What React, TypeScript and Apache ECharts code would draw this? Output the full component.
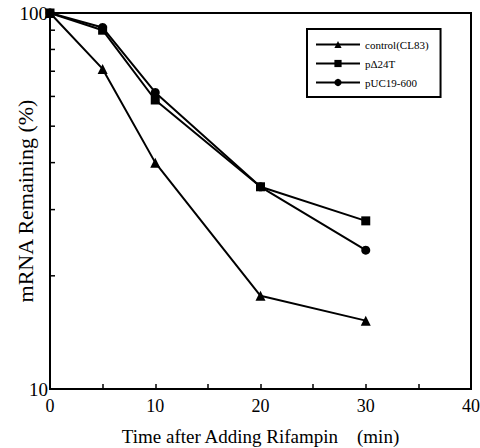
import React, { useEffect, useRef } from "react";
import * as echarts from "echarts";

const times = [0, 5, 10, 20, 30];
const controlCL83 = [100, 71, 40, 17.7, 15.2];
const pD24T = [100, 90, 58.7, 34.5, 28];
const pUC19600 = [100, 91.5, 61.5, 34.5, 23.4];
const seriesNames = ["control(CL83)", "pΔ24T", "pUC19-600"];
const yMinorTicks = [20, 30, 40, 50, 60, 70, 80, 90];

const FONT = '"Liberation Serif", "Times New Roman", serif';

export default function App() {
  const ref = useRef<HTMLDivElement>(null);
  useEffect(() => {
    if (!ref.current) return;
    const chart = echarts.init(ref.current, undefined, { renderer: "svg" });
    const mk = (arr: number[]) => times.map((t, i) => [t, arr[i]]);
    const lineBase = {
      type: "line",
      lineStyle: { color: "#000", width: 2 },
      itemStyle: { color: "#000" },
      z: 3,
    };
    chart.setOption({
      animation: false,
      backgroundColor: "#fff",
      textStyle: { fontFamily: FONT },
      grid: {
        left: 50,
        right: 9,
        top: 13,
        bottom: 59,
        outerBoundsMode: "none",
        containLabel: false,
        show: true,
        borderColor: "#000",
        borderWidth: 2,
      },
      legend: {
        data: seriesNames,
        orient: "vertical",
        left: 307,
        top: 29,
        itemWidth: 44,
        itemHeight: 9,
        itemGap: 8,
        padding: [10, 12, 9, 8],
        borderColor: "#000",
        borderWidth: 2,
        backgroundColor: "#fff",
        textStyle: { fontFamily: FONT, fontSize: 11, color: "#000" },
      },
      xAxis: {
        type: "value",
        min: 0,
        max: 40,
        interval: 5,
        axisLine: { lineStyle: { color: "#000", width: 2 } },
        axisTick: { inside: true, length: 5, lineStyle: { color: "#000", width: 1.5 } },
        splitLine: { show: false },
        axisLabel: {
          color: "#000",
          fontFamily: FONT,
          fontSize: 18,
          margin: 8,
          formatter: (v: number) => (v % 10 === 0 ? String(v) : ""),
        },
        name: "Time after Adding Rifampin    (min)",
        nameLocation: "middle",
        nameGap: 38,
        nameMoveOverlap: false,
        nameTextStyle: { color: "#000", fontFamily: FONT, fontSize: 19 },
      },
      yAxis: {
        type: "log",
        logBase: 10,
        min: 10,
        max: 100,
        axisLine: { lineStyle: { color: "#000", width: 2 } },
        axisTick: { inside: true, length: 5, lineStyle: { color: "#000", width: 1.5 } },
        splitLine: { show: false },
        axisLabel: { color: "#000", fontFamily: FONT, fontSize: 19, margin: 2 },
        name: "mRNA Remaining (%)",
        nameLocation: "middle",
        nameGap: 14,
        nameMoveOverlap: false,
        nameTextStyle: { color: "#000", fontFamily: FONT, fontSize: 22 },
      },
      series: [
        { ...lineBase, name: seriesNames[0], data: mk(controlCL83), symbol: "triangle", symbolSize: 10 },
        { ...lineBase, name: seriesNames[1], data: mk(pD24T), symbol: "rect", symbolSize: 9 },
        { ...lineBase, name: seriesNames[2], data: mk(pUC19600), symbol: "circle", symbolSize: 9 },
        {
          type: "custom",
          name: "yminor",
          silent: true,
          clip: false,
          data: yMinorTicks.map((v) => [0, v]),
          renderItem: (params: any, api: any) => {
            const p = api.coord([api.value(0), api.value(1)]);
            return {
              type: "line",
              shape: { x1: p[0], y1: p[1], x2: p[0] + 5, y2: p[1] },
              style: { stroke: "#000", lineWidth: 1.5 },
            };
          },
          z: 2,
        },
      ],
    });
    return () => chart.dispose();
  }, []);
  return (
    <div
      ref={ref}
      style={{ position: "absolute", left: 0, top: 0, width: 480, height: 448 }}
    />
  );
}
